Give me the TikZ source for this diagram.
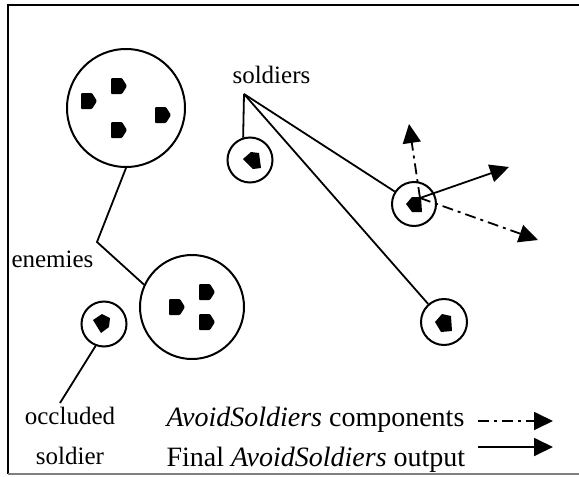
\documentclass[tikz,border=0pt]{standalone}
\usepackage{fontspec}
\setmainfont{Liberation Serif}
\usepackage{tikz}
\usetikzlibrary{arrows.meta}

\begin{document}
\begin{tikzpicture}[x=1pt,y=-1pt,
    every node/.style={font=\fontsize{25}{40}\selectfont},
    legend/.style={anchor=base west,font=\fontsize{28}{32}\selectfont},
    grp/.style={circle,draw,line width=2pt,inner sep=0pt,minimum size=#1},
    lnk/.style={line width=1.8pt},
    dashdot/.style={line width=1.8pt,dash pattern=on 11pt off 5pt on 3pt off 5pt},
    tip/.style={-{Triangle[length=19pt,width=18pt]}},
    enemy/.pic={\fill[rounded corners=1pt] (-8,-8) -- (3,-8) -- (8,0) -- (3,8) -- (-8,8) -- cycle;}]
    \useasboundingbox (0,0) rectangle (579,477);
    \draw[line width=1.8pt] (579,5) -- (8,5) -- (8,474);
    \draw[line width=1.5pt,gray] (8,474) -- (579,474);

    \node [grp=118] (e1) at (126,108) {};
    \node [grp=104] (e2) at (192,307) {};
    \node [grp=45] (s1) at (250,160) {};
    \node [grp=44] (s2) at (414,204) {};
    \node [grp=46] (s3) at (444,322) {};
    \node [grp=45] (s4) at (104,324) {};

    \foreach \p in {(89,101),(119,86),(119,130),(163,115),(177,307),(207,292),(207,322)}
      \pic at \p {enemy};
    \fill (243,159) -- (251,152) -- (259,153) -- (261,168) -- (253,169) -- cycle;
    \fill (406,204) -- (412,197) -- (421,197) -- (422,212) -- (412,212) -- cycle;
    \fill (435,322) -- (442,314) -- (451,316) -- (452,331) -- (441,332) -- cycle;
    \fill (93,320) -- (102,314) -- (110,318) -- (109,327) -- (101,333) -- cycle;

    \node [anchor=base west] (enemies) at (8,267) {enemies};
    \node [anchor=base west] (soldiers) at (229,83) {soldiers};
    \node [align=center,anchor=north] (occl) at (70,404) {occluded\\soldier};
    \node [legend] (comp) at (163,426) {\textit{AvoidSoldiers} components};
    \node [legend] (final) at (163,466) {Final \textit{AvoidSoldiers} output};

    \coordinate (ev) at (97,242);
    \coordinate (sv) at (244,94);
    \coordinate (oc) at (60,403);
    \draw [lnk] (e1.south) -- (ev) -- (e2.155);
    \draw [lnk] (sv) -- (s1.107);
    \draw [lnk] (sv) -- (s2);
    \draw [lnk] (sv) -- (s3);
    \draw [lnk] (s4.249) -- (oc);

    \coordinate (o) at (420,198);
    \coordinate (a1) at (509,167);
    \coordinate (a2) at (409,124);
    \coordinate (a3) at (538,240);
    \draw [lnk,tip] (o) -- (a1);
    \draw [dashdot,tip] (o) -- (a2);
    \draw [dashdot,tip] (o) -- (a3);

    \coordinate (l1a) at (478,421);
    \coordinate (l1b) at (553,421);
    \coordinate (l2a) at (478,447);
    \coordinate (l2b) at (553,447);
    \draw [dashdot,tip] (l1a) -- (l1b);
    \draw [lnk,tip] (l2a) -- (l2b);
\end{tikzpicture}
\end{document}
